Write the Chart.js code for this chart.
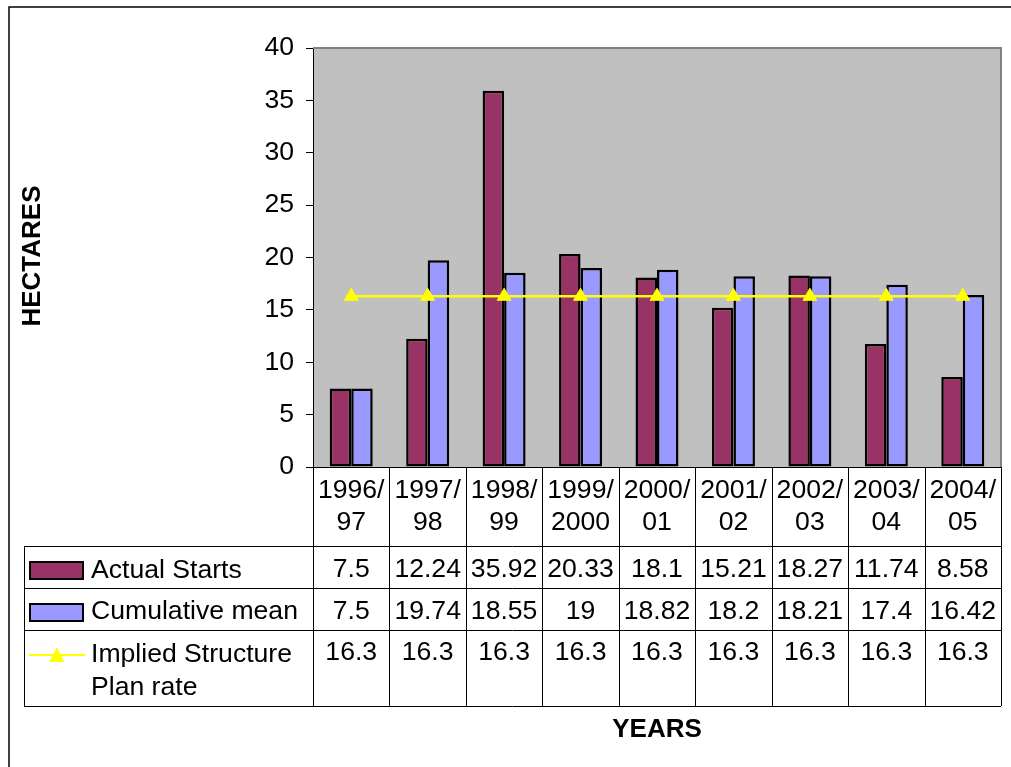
<!DOCTYPE html>
<html>
<head>
<meta charset="utf-8">
<script src="https://cdn.jsdelivr.net/npm/chart.js@4/dist/chart.umd.min.js"></script>
<style>
  html, body { margin: 0; padding: 0; background: #fff; }
  #wrap { width: 1011px; height: 767px; }
</style>
</head>
<body>
<div id="wrap"><canvas id="c" width="1011" height="767"></canvas></div>
<script>
// Financial years, split over two lines
const yearStart = ['1996/', '1997/', '1998/', '1999/', '2000/', '2001/', '2002/', '2003/', '2004/'];
const yearEnd   = ['97', '98', '99', '2000', '01', '02', '03', '04', '05'];

// Hectares per year
const actualStarts    = [7.5, 12.24, 35.92, 20.33, 18.1, 15.21, 18.27, 11.74, 8.58];
const cumulativeMean  = [7.5, 19.74, 18.55, 19, 18.82, 18.2, 18.21, 17.4, 16.42];
const impliedPlanRate = [16.3, 16.3, 16.3, 16.3, 16.3, 16.3, 16.3, 16.3, 16.3];

const seriesNames = ['Actual Starts', 'Cumulative mean', ['Implied Structure', 'Plan rate']];
const yAxisTitle = 'HECTARES';
const xAxisTitle = 'YEARS';

const FONT = 'Liberation Sans, Arial, sans-serif';
const MAROON = '#993366';
const LAVENDER = '#9999FF';
const YELLOW = '#FFFF00';

const labels = yearStart.map((s, i) => [s, yearEnd[i]]);

// Data table under the plot, legend keys in its first column
const tablePlugin = {
  id: 'dataTable',
  beforeDraw(chart) {
    const { ctx, chartArea: a } = chart;
    ctx.save();
    ctx.fillStyle = '#fff';
    ctx.fillRect(0, 0, chart.width, chart.height);
    ctx.fillStyle = '#C0C0C0';
    ctx.fillRect(a.left, a.top, a.right - a.left, a.bottom - a.top);
    ctx.restore();
  },
  afterDraw(chart) {
    const { ctx, chartArea: a } = chart;
    const x = chart.scales.x;
    const n = labels.length;
    const colW = (a.right - a.left) / n;
    const rows = [546, 588, 630, 706];
    const tableLeft = 24;

    ctx.save();
    // plot frame (top and right)
    ctx.strokeStyle = '#808080';
    ctx.lineWidth = 2;
    ctx.beginPath();
    ctx.moveTo(a.left, a.top);
    ctx.lineTo(a.right, a.top);
    ctx.lineTo(a.right, a.bottom);
    ctx.stroke();

    // table grid
    ctx.strokeStyle = '#000';
    ctx.lineWidth = 1;
    ctx.beginPath();
    rows.forEach(y => {
      ctx.moveTo(tableLeft, y + 0.5);
      ctx.lineTo(a.right, y + 0.5);
    });
    ctx.moveTo(tableLeft + 0.5, rows[0]);
    ctx.lineTo(tableLeft + 0.5, rows[3]);
    for (let i = 0; i <= n; i++) {
      const bx = Math.round(a.left + i * colW) + 0.5;
      ctx.moveTo(bx, a.bottom);
      ctx.lineTo(bx, rows[3]);
    }
    ctx.stroke();

    // values
    ctx.fillStyle = '#000';
    ctx.font = '26.6px ' + FONT;
    ctx.textAlign = 'center';
    ctx.textBaseline = 'middle';
    const rowCenters = [570, 612, 653];
    chart.data.datasets.forEach((ds, r) => {
      ds.data.forEach((v, i) => {
        ctx.fillText(String(v), x.getPixelForValue(i), rowCenters[r]);
      });
    });

    // legend keys
    ctx.lineWidth = 2;
    ctx.strokeStyle = '#000';
    ctx.fillStyle = MAROON;
    ctx.fillRect(30, 562, 53, 17);
    ctx.strokeRect(30, 562, 53, 17);
    ctx.fillStyle = LAVENDER;
    ctx.fillRect(30, 604, 53, 17);
    ctx.strokeRect(30, 604, 53, 17);
    ctx.strokeStyle = YELLOW;
    ctx.lineWidth = 2;
    ctx.beginPath();
    ctx.moveTo(29, 655);
    ctx.lineTo(85, 655);
    ctx.stroke();
    ctx.fillStyle = YELLOW;
    ctx.beginPath();
    ctx.moveTo(57, 647);
    ctx.lineTo(64.5, 662);
    ctx.lineTo(49.5, 662);
    ctx.closePath();
    ctx.fill();

    // series names
    ctx.fillStyle = '#000';
    ctx.textAlign = 'left';
    ctx.fillText(seriesNames[0], 91, 571);
    ctx.fillText(seriesNames[1], 91, 612);
    ctx.fillText(seriesNames[2][0], 91, 655);
    ctx.fillText(seriesNames[2][1], 91, 688);

    // axis titles
    ctx.font = 'bold 26px ' + FONT;
    ctx.textAlign = 'center';
    ctx.fillText(xAxisTitle, 657, 730);
    ctx.translate(33, 256);
    ctx.rotate(-Math.PI / 2);
    ctx.fillText(yAxisTitle, 0, 0);
    ctx.restore();

    // outer chart frame
    ctx.save();
    ctx.strokeStyle = '#000';
    ctx.lineWidth = 1.5;
    ctx.strokeRect(9, 7, 1200, 1000);
    ctx.restore();
  }
};

new Chart(document.getElementById('c'), {
  type: 'bar',
  data: {
    labels: labels,
    datasets: [
      {
        label: seriesNames[0],
        data: actualStarts,
        backgroundColor: MAROON,
        borderColor: '#000',
        borderWidth: 2.5,
        borderSkipped: false,
        categoryPercentage: 0.5625,
        barPercentage: 1,
        order: 1
      },
      {
        label: seriesNames[1],
        data: cumulativeMean,
        backgroundColor: LAVENDER,
        borderColor: '#000',
        borderWidth: 2.5,
        borderSkipped: false,
        categoryPercentage: 0.5625,
        barPercentage: 1,
        order: 1
      },
      {
        type: 'line',
        label: seriesNames[2].join(' '),
        data: impliedPlanRate,
        borderColor: YELLOW,
        backgroundColor: YELLOW,
        borderWidth: 2.5,
        pointStyle: 'triangle',
        pointRadius: 8,
        pointBackgroundColor: YELLOW,
        pointBorderColor: YELLOW,
        pointBorderWidth: 1,
        tension: 0,
        fill: false,
        order: 0
      }
    ]
  },
  options: {
    responsive: false,
    animation: false,
    devicePixelRatio: 1,
    layout: { padding: { top: 48, right: 10, left: 0, bottom: 0 } },
    plugins: {
      legend: { display: false },
      tooltip: { enabled: false }
    },
    scales: {
      x: {
        grid: { display: false, drawTicks: false },
        border: { display: true, color: '#000', width: 1 },
        ticks: {
          color: '#000',
          font: { family: FONT, size: 26.6 },
          padding: 8,
          maxRotation: 0,
          autoSkip: false
        },
        afterFit(s) { s.height = 300; }
      },
      y: {
        min: 0,
        max: 40,
        ticks: {
          stepSize: 5,
          color: '#000',
          font: { family: FONT, size: 26.6 },
          padding: 12
        },
        grid: { drawOnChartArea: false, drawTicks: true, tickLength: 7, color: '#000', lineWidth: 1 },
        border: { color: '#000', width: 1 },
        afterFit(s) { s.width = 313; }
      }
    }
  },
  plugins: [tablePlugin]
});
</script>
</body>
</html>
